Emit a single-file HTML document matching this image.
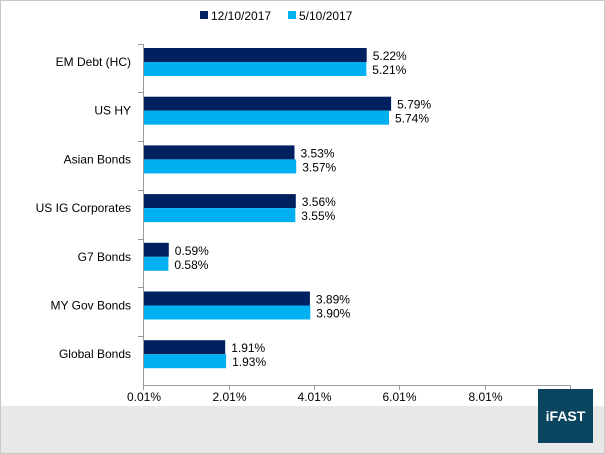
<!DOCTYPE html><html><head><style>body{margin:0}svg{display:block}text{font-family:"Liberation Sans",sans-serif;font-size:12px;fill:#000}</style></head><body>
<svg width="605" height="454" xmlns="http://www.w3.org/2000/svg">
<rect x="0" y="0" width="605" height="454" fill="#fff"/>
<rect x="0" y="406" width="605" height="48" fill="#e8e8e8"/>
<rect x="0.5" y="0.5" width="604" height="453" fill="none" stroke="#c8c8c8"/>
<rect x="200" y="11" width="8" height="8" fill="#002060"/><text x="211" y="20">12/10/2017</text>
<rect x="288" y="11" width="8" height="8" fill="#00b0f0"/><text x="299" y="20">5/10/2017</text>
<g stroke="#999" stroke-width="1">
<line x1="143.5" y1="44" x2="143.5" y2="390"/>
<line x1="143.5" y1="385.5" x2="571" y2="385.5"/>
<line x1="229.5" y1="385" x2="229.5" y2="390"/><line x1="314.5" y1="385" x2="314.5" y2="390"/><line x1="399.5" y1="385" x2="399.5" y2="390"/><line x1="485.5" y1="385" x2="485.5" y2="390"/><line x1="570.5" y1="385" x2="570.5" y2="390"/>
<line x1="138" y1="44.5" x2="144" y2="44.5"/><line x1="138" y1="92.5" x2="144" y2="92.5"/><line x1="138" y1="141.5" x2="144" y2="141.5"/><line x1="138" y1="190.5" x2="144" y2="190.5"/><line x1="138" y1="239.5" x2="144" y2="239.5"/><line x1="138" y1="287.5" x2="144" y2="287.5"/><line x1="138" y1="336.5" x2="144" y2="336.5"/>
</g>
<g>
<rect x="144" y="48" width="222.7" height="14" fill="#002060"/><rect x="144" y="62" width="222.3" height="14" fill="#00b0f0"/>
<text x="372.7" y="60">5.22%</text><text x="372.3" y="74">5.21%</text><text x="131" y="66" text-anchor="end">EM Debt (HC)</text>

<rect x="144" y="96.7" width="247.1" height="14" fill="#002060"/><rect x="144" y="110.7" width="245" height="14" fill="#00b0f0"/>
<text x="397.1" y="108.7">5.79%</text><text x="395" y="122.7">5.74%</text><text x="131" y="114.7" text-anchor="end">US HY</text>

<rect x="144" y="145.4" width="150.5" height="14" fill="#002060"/><rect x="144" y="159.4" width="152.2" height="14" fill="#00b0f0"/>
<text x="300.5" y="157.4">3.53%</text><text x="302.2" y="171.4">3.57%</text><text x="131" y="163.4" text-anchor="end">Asian Bonds</text>

<rect x="144" y="194.1" width="151.8" height="14" fill="#002060"/><rect x="144" y="208.1" width="151.3" height="14" fill="#00b0f0"/>
<text x="301.8" y="206.1">3.56%</text><text x="301.3" y="220.1">3.55%</text><text x="131" y="212.1" text-anchor="end">US IG Corporates</text>

<rect x="144" y="242.8" width="24.8" height="14" fill="#002060"/><rect x="144" y="256.8" width="24.4" height="14" fill="#00b0f0"/>
<text x="174.8" y="254.8">0.59%</text><text x="174.4" y="268.8">0.58%</text><text x="131" y="260.8" text-anchor="end">G7 Bonds</text>

<rect x="144" y="291.5" width="165.9" height="14" fill="#002060"/><rect x="144" y="305.5" width="166.3" height="14" fill="#00b0f0"/>
<text x="315.9" y="303.5">3.89%</text><text x="316.3" y="317.5">3.90%</text><text x="131" y="309.5" text-anchor="end">MY Gov Bonds</text>

<rect x="144" y="340.2" width="81.2" height="14" fill="#002060"/><rect x="144" y="354.2" width="82.1" height="14" fill="#00b0f0"/>
<text x="231.2" y="352.2">1.91%</text><text x="232.1" y="366.2">1.93%</text><text x="131" y="358.2" text-anchor="end">Global Bonds</text>
</g>
<g text-anchor="middle"><text x="144" y="401">0.01%</text><text x="229.5" y="401">2.01%</text><text x="314.5" y="401">4.01%</text><text x="399.5" y="401">6.01%</text><text x="485.5" y="401">8.01%</text></g>
<rect x="538" y="389" width="55" height="54" fill="#0a4560"/>
<text x="565.5" y="421" text-anchor="middle" style="font-weight:bold;font-size:14px;fill:#fff">iFAST</text>
</svg></body></html>
